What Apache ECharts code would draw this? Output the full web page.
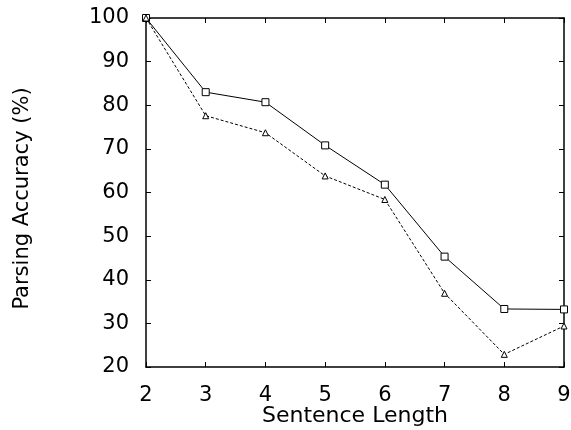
<!DOCTYPE html>
<html>
<head>
<meta charset="utf-8">
<script src="https://cdn.jsdelivr.net/npm/echarts@6/dist/echarts.min.js"></script>
<style>
  html, body { margin: 0; padding: 0; background: #fff; }
  #chart { width: 571px; height: 430px; }
</style>
</head>
<body>
<div id="chart"></div>
<script>
const lengths = [2, 3, 4, 5, 6, 7, 8, 9];
const squareAcc = [100, 83.0, 80.7, 70.8, 61.8, 45.3, 33.3, 33.2];
const triangleAcc = [100, 77.6, 73.7, 63.8, 58.4, 36.9, 22.9, 29.4];

function pairs(ys) {
  return lengths.map((x, i) => [x, ys[i]]);
}

const font = "'DejaVu Sans', sans-serif";
const axisLine = { show: true, lineStyle: { color: "#000", width: 1.5 } };
const ticks = { show: true, inside: true, length: 5, lineStyle: { color: "#000", width: 1 } };

const chart = echarts.init(document.getElementById("chart"));
chart.setOption({
  animation: false,
  grid: { left: 146, right: 7, top: 18, bottom: 63, outerBoundsMode: "none", containLabel: false },
  xAxis: [
    {
      type: "value", min: 2, max: 9, interval: 1,
      name: "Sentence Length", nameLocation: "middle", nameGap: 38, nameMoveOverlap: false,
      nameTextStyle: { fontFamily: font, fontSize: 22, color: "#000" },
      axisLine: axisLine, axisTick: ticks, splitLine: { show: false },
      axisLabel: { fontFamily: font, fontSize: 21, color: "#000", margin: 18 },
    },
    {
      type: "value", min: 2, max: 9, interval: 1, position: "top",
      axisLine: axisLine, axisTick: ticks, splitLine: { show: false },
      axisLabel: { show: false },
    },
  ],
  yAxis: [
    {
      type: "value", min: 20, max: 100, interval: 10,
      name: "Parsing Accuracy (%)", nameLocation: "middle", nameGap: 113, nameMoveOverlap: false,
      nameTextStyle: { fontFamily: font, fontSize: 21, color: "#000", padding: [0, 12, 0, 0] },
      axisLine: axisLine, axisTick: ticks, splitLine: { show: false },
      axisLabel: { fontFamily: font, fontSize: 21, color: "#000", margin: 17 },
    },
    {
      type: "value", min: 20, max: 100, interval: 10, position: "right",
      axisLine: axisLine, axisTick: ticks, splitLine: { show: false },
      axisLabel: { show: false },
    },
  ],
  series: [
    {
      type: "line", data: pairs(squareAcc),
      symbol: "rect", symbolSize: 7, showAllSymbol: true,
      lineStyle: { color: "#000", width: 1 },
      itemStyle: { color: "#fff", borderColor: "#000", borderWidth: 1 },
    },
    {
      type: "line", data: pairs(triangleAcc),
      symbol: "triangle", symbolSize: 6, showAllSymbol: true,
      lineStyle: { color: "#000", width: 1, type: [3, 2] },
      itemStyle: { color: "#fff", borderColor: "#000", borderWidth: 1 },
    },
  ],
});
</script>
</body>
</html>
